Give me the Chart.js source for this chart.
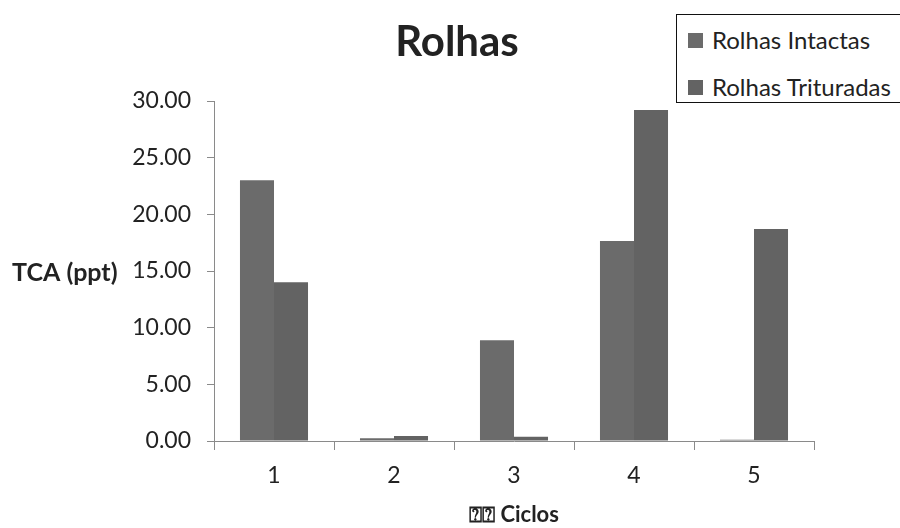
<!DOCTYPE html>
<html>
<head>
<meta charset="utf-8">
<script src="https://cdn.jsdelivr.net/npm/chart.js@4.4.1/dist/chart.umd.min.js"></script>
<style>
  html, body { margin: 0; padding: 0; background: #fff; }
  #wrap { position: relative; width: 900px; height: 528px; overflow: hidden; }
  #legend {
    position: absolute; left: 676px; top: 14px; width: 260px; height: 89px;
    border: 1.5px solid #111; box-sizing: border-box; background: #fff;
    font-family: Lato, "Open Sans", sans-serif; font-size: 24px; color: #222;
  }
  #legend .item { position: absolute; left: 11px; display: flex; align-items: center; white-space: nowrap; line-height: 28px; }
  #legend .sw { width: 15px; height: 15px; margin-right: 9px; }
</style>
</head>
<body>
<div id="wrap">
  <canvas id="c" width="900" height="528"></canvas>
  <div id="legend"></div>
</div>
<script>
// Cycle categories and TCA measurements (ppt) for each cork preparation
const categories = ['1', '2', '3', '4', '5'];
const seriesNames = ['Rolhas Intactas', 'Rolhas Trituradas'];
const intactas = [23.0, 0.24, 8.9, 17.65, 0.1];
const trituradas = [14.0, 0.44, 0.38, 29.2, 18.7];
const yTicks = [0, 5, 10, 15, 20, 25, 30];

const colors = ['#6b6b6b', '#636363'];
const fontFamily = 'Lato, "Open Sans", sans-serif';

// Legend box built from the series names
const legendEl = document.getElementById('legend');
seriesNames.forEach((name, i) => {
  const item = document.createElement('div');
  item.className = 'item';
  item.style.top = (i === 0 ? 11 : 58) + 'px';
  item.innerHTML = '<span class="sw" style="background:' + colors[i] + '"></span><span>' + name + '</span>';
  legendEl.appendChild(item);
});

// Title, horizontal y-axis caption and x-axis caption
const textPlugin = {
  id: 'captions',
  afterDraw(chart) {
    const ctx = chart.ctx;
    const area = chart.chartArea;
    ctx.save();
    ctx.fillStyle = '#222';
    ctx.textBaseline = 'middle';
    ctx.textAlign = 'center';
    ctx.font = 'bold 42px ' + fontFamily;
    ctx.fillText('Rolhas', 457, 42);
    ctx.font = 'bold 25px ' + fontFamily;
    ctx.textAlign = 'left';
    ctx.fillText('TCA (ppt)', 12, 273);
    ctx.textAlign = 'center';
    ctx.font = 'bold 22px ' + fontFamily + ', "DejaVu Sans"';
    ctx.fillText('\u2370\u2370 Ciclos', (area.left + area.right) / 2, 515);
    ctx.restore();
  }
};

new Chart(document.getElementById('c'), {
  type: 'bar',
  data: {
    labels: categories,
    datasets: [
      { label: seriesNames[0], data: intactas, backgroundColor: colors[0], borderWidth: 0 },
      { label: seriesNames[1], data: trituradas, backgroundColor: colors[1], borderWidth: 0 }
    ]
  },
  options: {
    responsive: false,
    animation: false,
    layout: { padding: { top: 101, right: 86, bottom: 0, left: 0 } },
    plugins: { legend: { display: false }, title: { display: false }, tooltip: { enabled: false } },
    datasets: { bar: { categoryPercentage: 0.567, barPercentage: 1.0 } },
    scales: {
      x: {
        offset: true,
        grid: { offset: true, drawOnChartArea: false, drawTicks: true, tickLength: 9, color: '#8a8a8a', lineWidth: 1 },
        border: { display: true, color: '#8a8a8a', width: 1 },
        ticks: { color: '#222', font: { family: fontFamily, size: 23 }, padding: 12 },
        afterFit(scale) { scale.height = 87; }
      },
      y: {
        min: 0, max: 30,
        afterBuildTicks(scale) { scale.ticks = yTicks.map(v => ({ value: v })); },
        grid: { drawOnChartArea: false, drawTicks: true, tickLength: 7, color: '#8a8a8a', lineWidth: 1 },
        border: { display: true, color: '#8a8a8a', width: 1 },
        ticks: { color: '#222', font: { family: fontFamily, size: 23 }, padding: 16,
                 callback: v => Number(v).toFixed(2) },
        afterFit(scale) { scale.width = 214; }
      }
    }
  },
  plugins: [textPlugin]
});
</script>
</body>
</html>
